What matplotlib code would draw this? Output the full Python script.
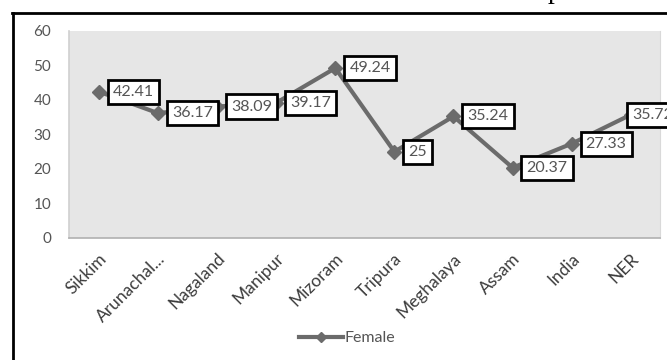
import matplotlib.pyplot as plt
from matplotlib.lines import Line2D
from matplotlib.transforms import ScaledTranslation

plt.rcParams['font.family'] = ['Lato', 'DejaVu Sans']

states = ['Sikkim', 'Arunachal...', 'Nagaland', 'Manipur', 'Mizoram',
          'Tripura', 'Meghalaya', 'Assam', 'India', 'NER']
female = [42.41, 36.17, 38.09, 39.17, 49.24, 25, 35.24, 20.37, 27.33, 35.72]
yticks = [0, 10, 20, 30, 40, 50, 60]

line_col = '#6b6b6b'
text_col = '#555555'

fig = plt.figure(figsize=(6.67, 3.6), dpi=100)
ax = fig.add_axes([0.104, 0.339, 0.886, 0.575])
ax.set_facecolor('#e6e6e6')

x = list(range(len(states)))
ax.plot(x, female, color=line_col, lw=3, marker='D', ms=7,
        mec=line_col, mfc=line_col, label='Female', zorder=3)

# value labels sit to the right of each point; the last one is squeezed at the edge
for i, v in enumerate(female):
    dx = 1 if i == len(female) - 1 else 14
    ax.annotate(f'{v:g}', (i, v), xytext=(dx, 0), textcoords='offset pixels',
                ha='left', va='center', fontsize=11.5, color=text_col,
                bbox=dict(boxstyle='square,pad=0.32', fc='white', ec='black', lw=2),
                zorder=4, annotation_clip=False)

ax.set_xlim(-0.5, len(states) - 0.5)
ax.set_ylim(0, 60)
ax.set_yticks(yticks)
ax.set_xticks(x)
ax.set_xticklabels(states, rotation=45, ha='right', va='center',
                   rotation_mode='anchor')
ax.tick_params(axis='y', length=0, pad=13, labelsize=11, labelcolor=text_col)
ax.tick_params(axis='x', length=0, pad=13, labelsize=12.5, labelcolor='#3c3c3c')
shift = ScaledTranslation(5 / 100, 0, fig.dpi_scale_trans)
for lab in ax.get_xticklabels():
    lab.set_transform(lab.get_transform() + shift)

ax.spines['top'].set_visible(False)
ax.spines['left'].set_color('#d0d0d0')
ax.spines['right'].set_color('#d9d9d9')
ax.spines['bottom'].set_color('#b0b0b0')
ax.spines['left'].set_linewidth(1.2)
ax.spines['bottom'].set_linewidth(1.2)

fig.legend(loc='center', bbox_to_anchor=(0.52, 0.06), frameon=False,
           fontsize=11.5, labelcolor=text_col, handlelength=2.8,
           handletextpad=0.05, markerscale=0.8)

# outer frame of the figure panel
fig.add_artist(Line2D([12 / 667, 1.0], [1 - 12.5 / 360] * 2, color='black', lw=2))
fig.add_artist(Line2D([13 / 667] * 2, [0.0, 1 - 12.5 / 360], color='black', lw=2))
fig.text(548 / 667, 1 + 2 / 360, 'p', family='Liberation Serif', fontsize=20,
         va='baseline', ha='left', color='black')

fig.savefig('out.png', dpi=100)
